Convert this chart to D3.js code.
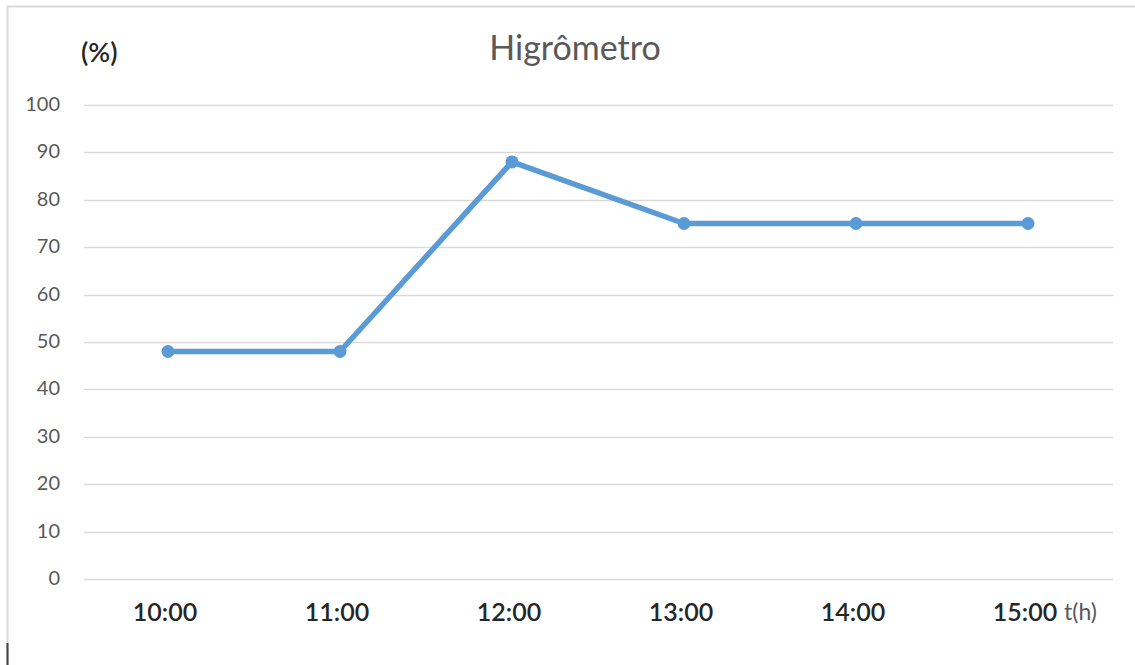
<!DOCTYPE html>
<html>
<head>
<meta charset="utf-8">
<script src="https://cdn.jsdelivr.net/npm/d3@7"></script>
<style>
  html, body { margin: 0; padding: 0; background: #fff; }
  svg { display: block; }
</style>
</head>
<body>
<svg id="chart" width="1135" height="665"></svg>
<script>
// Humidity readings through the day
const categories = ["10:00", "11:00", "12:00", "13:00", "14:00", "15:00"];
const humidity = [48, 48, 88, 75, 75, 75];
const yTicks = [0, 10, 20, 30, 40, 50, 60, 70, 80, 90, 100];

const svg = d3.select("#chart");
const W = 1135, H = 665;
const plotLeft = 82, plotRight = 1114, plotTop = 105, plotBottom = 579;
const font = "Lato, 'Liberation Sans', sans-serif";

// frame
svg.append("line").attr("x1", 7.5).attr("x2", 7.5).attr("y1", 6).attr("y2", 665)
  .attr("stroke", "#d9d9d9").attr("stroke-width", 2);
svg.append("line").attr("x1", 7).attr("x2", W).attr("y1", 6.5).attr("y2", 6.5)
  .attr("stroke", "#d9d9d9").attr("stroke-width", 2);
svg.append("line").attr("x1", 7.5).attr("x2", 7.5).attr("y1", 643).attr("y2", 665)
  .attr("stroke", "#404040").attr("stroke-width", 2);

const x = d3.scaleBand().domain(categories).range([plotLeft, plotRight]);
const y = d3.scaleLinear().domain([0, 100]).range([plotBottom, plotTop]);

// gridlines
svg.append("g").selectAll("line").data(yTicks).join("line")
  .attr("x1", 84).attr("x2", 1113)
  .attr("y1", d => Math.round(y(d)) + 0.5).attr("y2", d => Math.round(y(d)) + 0.5)
  .attr("stroke", "#d9d9d9").attr("stroke-width", 1.3);

// y axis labels
const yAxis = d3.axisLeft(y).tickValues(yTicks).tickSize(0).tickPadding(0);
const gy = svg.append("g").attr("transform", "translate(60,-1)").call(yAxis);
gy.select(".domain").remove();
gy.selectAll("text")
  .attr("font-family", font)
  .attr("font-size", 20).attr("fill", "#595959");

// x axis labels
const xAxis = d3.axisBottom(x).tickSize(0).tickPadding(0);
const gx = svg.append("g").attr("transform", "translate(-3,603)").call(xAxis);
gx.select(".domain").remove();
gx.selectAll("text")
  .attr("font-family", font)
  .attr("font-size", 25).attr("font-weight", 600).attr("fill", "#262626");

// axis unit labels
svg.append("text").attr("x", 81).attr("y", 62)
  .attr("font-family", font)
  .attr("font-size", 27).attr("font-weight", 600).attr("fill", "#262626")
  .text("(%)");
svg.append("text").attr("x", 1064).attr("y", 620)
  .attr("font-family", font)
  .attr("font-size", 23).attr("fill", "#595959")
  .text("t(h)");

// title
svg.append("text").attr("x", 575).attr("y", 60).attr("text-anchor", "middle")
  .attr("font-family", font)
  .attr("font-size", 34).attr("fill", "#595959")
  .text("Higrômetro");

// series line and markers
const cx = d => x(d) + x.bandwidth() / 2;
const line = d3.line().x((d, i) => cx(categories[i])).y(d => y(d));
svg.append("path").datum(humidity)
  .attr("d", line).attr("fill", "none")
  .attr("stroke", "#5b9bd5").attr("stroke-width", 5.5)
  .attr("stroke-linejoin", "round").attr("stroke-linecap", "round");
svg.append("g").selectAll("circle").data(humidity).join("circle")
  .attr("cx", (d, i) => cx(categories[i])).attr("cy", d => y(d))
  .attr("r", 6.5).attr("fill", "#5b9bd5");
</script>
</body>
</html>
